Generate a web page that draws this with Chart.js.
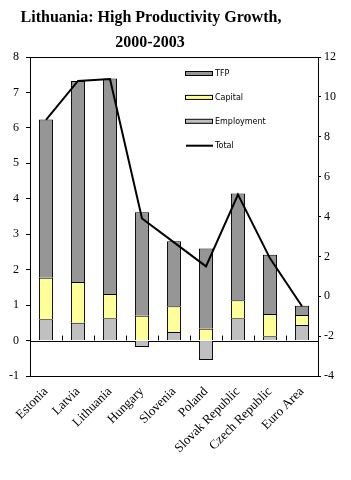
<!DOCTYPE html>
<html>
<head>
<meta charset="utf-8">
<script src="https://cdn.jsdelivr.net/npm/chart.js@4/dist/chart.umd.min.js"></script>
<style>
  html, body { margin: 0; padding: 0; background: #fff; }
  #chart { display: block; }
</style>
</head>
<body>
<canvas id="chart" width="351" height="480"></canvas>
<script>
const categories = ['Estonia', 'Latvia', 'Lithuania', 'Hungary', 'Slovenia', 'Poland', 'Slovak Republic', 'Czech Republic', 'Euro Area'];
const employment = [0.60, 0.50, 0.63, -0.18, 0.24, -0.55, 0.63, 0.12, 0.44];
const capital = [1.17, 1.15, 0.68, 0.70, 0.73, 0.33, 0.51, 0.63, 0.28];
const tfp = [4.47, 5.67, 6.08, 2.92, 1.83, 2.27, 3.01, 1.67, 0.26];
const total = [8.85, 10.8, 10.9, 3.9, 2.7, 1.5, 5.1, 1.9, -0.5];
const leftTicks = [-1, 0, 1, 2, 3, 4, 5, 6, 7, 8];
const rightTicks = [-4, -2, 0, 2, 4, 6, 8, 10, 12];

const titleLines = ['Lithuania: High Productivity Growth,', '2000-2003'];

// title, frame, zero line and small tick marks on the zero line
const frame = {
  id: 'frame',
  beforeDatasetsDraw(chart) {
    const { ctx, chartArea: a, scales } = chart;
    const y0 = scales.y.getPixelForValue(0);
    ctx.save();
    ctx.strokeStyle = '#000';
    ctx.lineWidth = 1;
    ctx.beginPath();
    ctx.moveTo(a.left, Math.round(y0) + 0.5);
    ctx.lineTo(a.right, Math.round(y0) + 0.5);
    for (let i = 1; i < categories.length; i++) {
      const x = Math.round(scales.x.getPixelForValue(i - 0.5)) + 0.5;
      ctx.moveTo(x, y0);
      ctx.lineTo(x, y0 - 5);
    }
    ctx.stroke();
    ctx.strokeRect(Math.round(a.left) + 0.5, Math.round(a.top) + 0.5, Math.round(a.right - a.left), Math.round(a.bottom - a.top));
    ctx.restore();
  },
  afterDraw(chart) {
    const { ctx } = chart;
    ctx.save();
    ctx.fillStyle = '#000';
    ctx.font = 'bold 16px "Liberation Serif", "Times New Roman", serif';
    ctx.textAlign = 'center';
    ctx.textBaseline = 'alphabetic';
    ctx.fillText(titleLines[0], 151, 22);
    ctx.fillText(titleLines[1], 150, 47);
    ctx.restore();
  }
};

// legend drawn inside the plot area
const innerLegend = {
  id: 'innerLegend',
  afterDatasetsDraw(chart) {
    const { ctx } = chart;
    const order = [2, 1, 0, 3];
    ctx.save();
    ctx.font = '8px "DejaVu Sans", Arial, sans-serif';
    ctx.textBaseline = 'middle';
    order.forEach((di, i) => {
      const ds = chart.data.datasets[di];
      const y = 74 + i * 23.9;
      if (ds.type === 'line') {
        ctx.strokeStyle = '#000';
        ctx.lineWidth = 2;
        ctx.beginPath();
        ctx.moveTo(186, y);
        ctx.lineTo(213, y);
        ctx.stroke();
      } else {
        ctx.fillStyle = ds.backgroundColor;
        ctx.fillRect(186, y - 2, 27, 4);
        ctx.strokeStyle = '#000';
        ctx.lineWidth = 1;
        ctx.strokeRect(185.5, y - 2.5, 27, 4);
      }
      ctx.fillStyle = '#000';
      ctx.fillText(ds.label, 215, y);
    });
    ctx.restore();
  }
};

const serif = { family: '"Liberation Serif", "Times New Roman", serif', size: 12 };

new Chart(document.getElementById('chart').getContext('2d'), {
  data: {
    labels: categories,
    datasets: [{
      type: 'bar',
      label: 'Employment',
      data: employment,
      backgroundColor: '#C0C0C0',
      borderColor: '#000',
      borderWidth: 1,
      yAxisID: 'y',
      order: 2
    }, {
      type: 'bar',
      label: 'Capital',
      data: capital,
      backgroundColor: '#FFFF99',
      borderColor: '#000',
      borderWidth: 1,
      yAxisID: 'y',
      order: 2
    }, {
      type: 'bar',
      label: 'TFP',
      data: tfp,
      backgroundColor: '#969696',
      borderColor: '#000',
      borderWidth: 1,
      yAxisID: 'y',
      order: 2
    }, {
      type: 'line',
      label: 'Total',
      data: total,
      borderColor: '#000',
      borderWidth: 2,
      pointRadius: 0,
      tension: 0,
      yAxisID: 'y1',
      order: 1
    }]
  },
  options: {
    responsive: false,
    animation: false,
    devicePixelRatio: 1,
    layout: { padding: { top: 57, left: 0, right: 0, bottom: 0 } },
    datasets: { bar: { barPercentage: 0.44, categoryPercentage: 1 } },
    plugins: {
      legend: { display: false },
      tooltip: { enabled: false }
    },
    scales: {
      x: {
        stacked: true,
        offset: true,
        grid: { display: false },
        border: { display: false },
        ticks: { color: '#000', font: { family: serif.family, size: 13 }, maxRotation: 45, minRotation: 45, padding: 0, autoSkip: false },
        afterFit(scale) { scale.height = 104; }
      },
      y: {
        position: 'left',
        stacked: true,
        min: -1,
        max: 8,
        afterBuildTicks(scale) { scale.ticks = leftTicks.map(v => ({ value: v })); },
        grid: { drawOnChartArea: false, tickLength: 4, tickColor: '#000' },
        border: { display: false },
        ticks: { color: '#000', font: serif, padding: 7 },
        afterFit(scale) { scale.width = 30; }
      },
      y1: {
        position: 'right',
        min: -4,
        max: 12,
        afterBuildTicks(scale) { scale.ticks = rightTicks.map(v => ({ value: v })); },
        grid: { drawOnChartArea: false, tickLength: 3, tickColor: '#000' },
        border: { display: false },
        ticks: { color: '#000', font: serif, padding: 3 },
        afterFit(scale) { scale.width = 33; }
      }
    }
  },
  plugins: [frame, innerLegend]
});
</script>
</body>
</html>
